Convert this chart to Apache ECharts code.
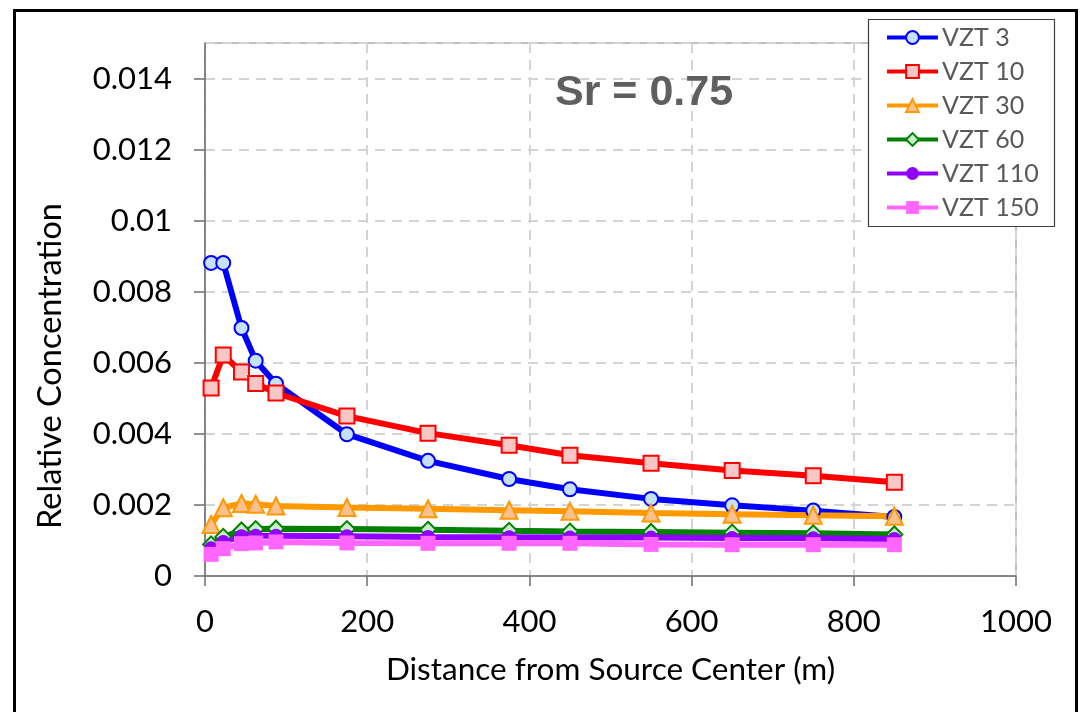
<!DOCTYPE html>
<html>
<head>
<meta charset="utf-8">
<script src="https://cdn.jsdelivr.net/npm/echarts@6/dist/echarts.min.js"></script>
<style>
  html, body { margin: 0; padding: 0; background: #fff; }
  #chart { width: 1089px; height: 712px; }
</style>
</head>
<body>
<div id="chart"></div>
<script>
// Distance from source center (m)
const distances = [7.5, 22.5, 45, 62.5, 87.5, 175, 275, 375, 450, 550, 650, 750, 850];

// Relative concentration at each distance, one array per VZT
const vzt3   = [0.00881, 0.00881, 0.00698, 0.00606, 0.00541, 0.00399, 0.00324, 0.00273, 0.00244, 0.00217, 0.00199, 0.00184, 0.00166];
const vzt10  = [0.00529, 0.00622, 0.00574, 0.00542, 0.00515, 0.00450, 0.00402, 0.00368, 0.00340, 0.00317, 0.00297, 0.00282, 0.00264];
const vzt30  = [0.00145, 0.00192, 0.00204, 0.00202, 0.00197, 0.00193, 0.00189, 0.00185, 0.00182, 0.00177, 0.00174, 0.00171, 0.00168];
const vzt60  = [0.00089, 0.00110, 0.00128, 0.00132, 0.00133, 0.00132, 0.00130, 0.00127, 0.00125, 0.00124, 0.00122, 0.00120, 0.00117];
const vzt110 = [0.00078, 0.00096, 0.00112, 0.00113, 0.00113, 0.00112, 0.00110, 0.00109, 0.00108, 0.00108, 0.00107, 0.00106, 0.00104];
const vzt150 = [0.00061, 0.00077, 0.00091, 0.00093, 0.00096, 0.00093, 0.00092, 0.00092, 0.00092, 0.00089, 0.00088, 0.00088, 0.00088];

const seriesNames = ['VZT 3', 'VZT 10', 'VZT 30', 'VZT 60', 'VZT 110', 'VZT 150'];

// Axis ticks
const xTicks = [0, 200, 400, 600, 800, 1000];
const yTicks = [0, 0.002, 0.004, 0.006, 0.008, 0.01, 0.012, 0.014];

const FONT = 'Lato, "Open Sans", sans-serif';

function pairs(ys) {
  return distances.map((x, i) => [x, ys[i]]);
}

function lineSeries(name, ys, color, symbol, size, fill) {
  return {
    name: name,
    type: 'line',
    data: pairs(ys),
    symbol: symbol,
    symbolSize: size,
    showAllSymbol: true,
    lineStyle: { color: color, width: 6 },
    itemStyle: { color: fill, borderColor: color, borderWidth: fill === color ? 0 : 2 },
    emphasis: { disabled: true },
    animation: false
  };
}

const chart = echarts.init(document.getElementById('chart'));

chart.setOption({
  animation: false,
  backgroundColor: '#ffffff',
  title: {
    text: 'Sr = 0.75',
    left: 555,
    top: 72,
    padding: 0,
    textStyle: {
      fontFamily: '"Liberation Sans", Arial, sans-serif',
      fontWeight: 'bold',
      fontSize: 43,
      color: '#5f5f5f'
    }
  },
  grid: {
    left: 205,
    right: 73,
    top: 43,
    bottom: 136,
    show: true,
    borderColor: '#808080',
    borderWidth: 1,
    backgroundColor: 'transparent'
  },
  legend: {
    orient: 'vertical',
    left: 885,
    top: 22,
    padding: 0,
    itemWidth: 51,
    itemHeight: 16,
    itemGap: 3,
    data: seriesNames,
    lineStyle: { width: 4 },
    textStyle: {
      fontFamily: FONT,
      fontSize: 25,
      color: '#595959',
      lineHeight: 31,
      padding: [0, 0, 0, -1]
    }
  },
  xAxis: {
    type: 'value',
    min: 0,
    max: 1000,
    interval: 200,
    name: 'Distance from Source Center (m)',
    nameLocation: 'middle',
    nameGap: 78,
    nameTextStyle: { fontFamily: FONT, fontSize: 31.5, color: '#000000' },
    axisLine: { show: true, onZero: false, lineStyle: { color: '#6e6e6e', width: 1.5 } },
    axisTick: { show: true, inside: false, length: 10, lineStyle: { color: '#6e6e6e', width: 1.5 } },
    axisLabel: {
      fontFamily: FONT,
      fontSize: 31,
      color: '#000000',
      margin: 30,
      formatter: v => (xTicks.indexOf(v) >= 0 ? String(v) : '')
    },
    splitLine: { show: true, lineStyle: { color: '#d4d4d4', width: 2, type: [10, 7] } }
  },
  yAxis: {
    type: 'value',
    min: 0,
    max: 0.015,
    interval: 0.002,
    axisLine: { show: true, lineStyle: { color: '#6e6e6e', width: 1.5 } },
    axisTick: { show: true, inside: false, length: 11, lineStyle: { color: '#6e6e6e', width: 1.5 } },
    axisLabel: {
      fontFamily: FONT,
      fontSize: 31,
      color: '#000000',
      margin: 33,
      showMaxLabel: false,
      formatter: v => (yTicks.some(t => Math.abs(t - v) < 1e-9) ? String(+v.toFixed(3)) : '')
    },
    splitLine: { show: true, lineStyle: { color: '#d4d4d4', width: 2, type: [10, 7] } }
  },
  graphic: [
    {
      // vertical axis title
      type: 'text',
      x: 51,
      y: 366,
      rotation: Math.PI / 2,
      style: {
        text: 'Relative Concentration',
        fontFamily: FONT,
        fontSize: 32.5,
        fill: '#000000',
        align: 'center',
        verticalAlign: 'middle'
      }
    },
    {
      type: 'rect',
      z: 3,
      shape: { x: 868.5, y: 19.5, width: 186, height: 207 },
      style: { fill: '#ffffff', stroke: '#404040', lineWidth: 1.2 }
    },
    {
      type: 'rect',
      z: 10,
      silent: true,
      shape: { x: 14.5, y: 10.5, width: 1062, height: 720 },
      style: { fill: 'none', stroke: '#000000', lineWidth: 3 }
    }
  ],
  series: [
    lineSeries('VZT 3',   vzt3,   '#0000ff', 'circle',   14, '#c6e0f8'),
    lineSeries('VZT 10',  vzt10,  '#ff0000', 'rect',     15, '#f9c6c6'),
    lineSeries('VZT 30',  vzt30,  '#ff9900', 'triangle', 17, '#fbc08c'),
    lineSeries('VZT 60',  vzt60,  '#008000', 'diamond',  16, '#c8f0c8'),
    lineSeries('VZT 110', vzt110, '#9000ff', 'circle',   14, '#9000ff'),
    lineSeries('VZT 150', vzt150, '#ff66ff', 'rect',     15, '#ff66ff')
  ]
});
</script>
</body>
</html>
